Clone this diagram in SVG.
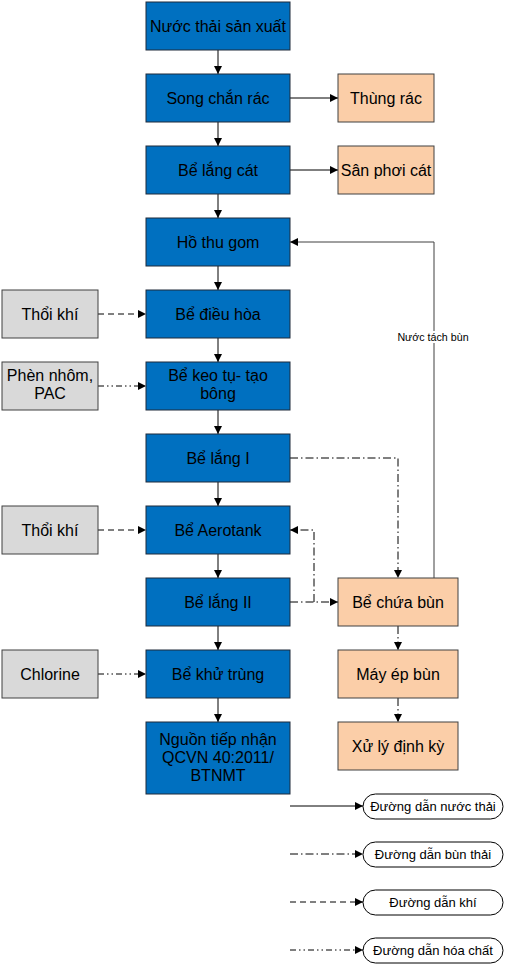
<svg xmlns="http://www.w3.org/2000/svg" width="508" height="964" viewBox="0 0 508 964">
<style>
.b{fill:#0070C0;stroke:#1F2A3A;stroke-width:1}
.o{fill:#FBCEA8;stroke:#404040;stroke-width:1}
.g{fill:#D9D9D9;stroke:#404040;stroke-width:1}
.p{fill:#FFFFFF;stroke:#000;stroke-width:1}
text{font-family:"Liberation Sans",Arial,sans-serif;font-size:16px;fill:#000;text-anchor:middle}
.lg{font-size:13px}
.sm{font-size:10.7px}
.c{fill:none;stroke:#000;stroke-width:1}
.cg{fill:none;stroke:#404040;stroke-width:1}
.dash{stroke-dasharray:6,4}
.dd{stroke-dasharray:8,3,1.5,3}
.ddd{stroke-dasharray:6,3,1.5,3,1.5,3}
</style>
<defs>
<marker id="a" viewBox="0 0 10 10" refX="10" refY="5" markerWidth="8" markerHeight="8" markerUnits="userSpaceOnUse" orient="auto">
<path d="M0,0 L10,5 L0,10 z" fill="#000"/>
</marker>
</defs>
<g id="connectors">
<path class="c" d="M218,50 V74" marker-end="url(#a)"/>
<path class="c" d="M218,122 V146" marker-end="url(#a)"/>
<path class="c" d="M218,194 V218" marker-end="url(#a)"/>
<path class="c" d="M218,266 V290" marker-end="url(#a)"/>
<path class="c" d="M218,338 V362" marker-end="url(#a)"/>
<path class="c" d="M218,410 V434" marker-end="url(#a)"/>
<path class="c" d="M218,482 V506" marker-end="url(#a)"/>
<path class="c" d="M218,554 V578" marker-end="url(#a)"/>
<path class="c" d="M218,626 V650" marker-end="url(#a)"/>
<path class="c" d="M218,698 V722" marker-end="url(#a)"/>
<path class="c" d="M290,98 H338" marker-end="url(#a)"/>
<path class="c" d="M290,170 H338" marker-end="url(#a)"/>
<path class="cg" d="M434,578 V242 H290" marker-end="url(#a)"/>
<rect x="397" y="331" width="74" height="12" fill="#FFFFFF"/>
<text class="sm" x="433" y="341">Nước tách bùn</text>
<path class="c dash" d="M98,314 H146" marker-end="url(#a)"/>
<path class="c ddd" d="M98,386 H146" marker-end="url(#a)"/>
<path class="c dash" d="M98,530 H146" marker-end="url(#a)"/>
<path class="c ddd" d="M98,674 H146" marker-end="url(#a)"/>
<path class="c dd" d="M290,458 H398 V578" marker-end="url(#a)"/>
<path class="c dd" d="M290,602 H338" marker-end="url(#a)"/>
<path class="c dd" d="M314,602 V530 H290" marker-end="url(#a)"/>
<path class="c dd" d="M398,626 V650" marker-end="url(#a)"/>
<path class="c dd" d="M398,698 V722" marker-end="url(#a)"/>
<path class="c" d="M290,806 H363" marker-end="url(#a)"/>
<path class="c dd" d="M290,854 H363" marker-end="url(#a)"/>
<path class="c dash" d="M290,902 H363" marker-end="url(#a)"/>
<path class="c ddd" d="M290,950 H363" marker-end="url(#a)"/>
</g>
<g id="n1"><rect class="b" x="146" y="2" width="144" height="48"/><text x="218" y="31.5">Nước thải sản xuất</text></g>
<g id="n2"><rect class="b" x="146" y="74" width="144" height="48"/><text x="218" y="103.5">Song chắn rác</text></g>
<g id="n3"><rect class="b" x="146" y="146" width="144" height="48"/><text x="218" y="175.5">Bể lắng cát</text></g>
<g id="n4"><rect class="b" x="146" y="218" width="144" height="48"/><text x="218" y="247.5">Hồ thu gom</text></g>
<g id="n5"><rect class="b" x="146" y="290" width="144" height="48"/><text x="218" y="319.5">Bể điều hòa</text></g>
<g id="n6"><rect class="b" x="146" y="362" width="144" height="48"/><text x="218" y="381">Bể keo tụ- tạo</text><text x="218" y="399">bông</text></g>
<g id="n7"><rect class="b" x="146" y="434" width="144" height="48"/><text x="218" y="463.5">Bể lắng I</text></g>
<g id="n8"><rect class="b" x="146" y="506" width="144" height="48"/><text x="218" y="535.5">Bể Aerotank</text></g>
<g id="n9"><rect class="b" x="146" y="578" width="144" height="48"/><text x="218" y="607.5">Bể lắng II</text></g>
<g id="n10"><rect class="b" x="146" y="650" width="144" height="48"/><text x="218" y="679.5">Bể khử trùng</text></g>
<g id="n11"><rect class="b" x="146" y="722" width="144" height="72"/><text x="218" y="745">Nguồn tiếp nhận</text><text x="218" y="763">QCVN 40:2011/</text><text x="218" y="781">BTNMT</text></g>
<g id="o1"><rect class="o" x="338" y="74" width="96" height="48"/><text x="386" y="103.5">Thùng rác</text></g>
<g id="o2"><rect class="o" x="338" y="146" width="96" height="48"/><text x="386" y="175.5">Sân phơi cát</text></g>
<g id="o3"><rect class="o" x="338" y="578" width="120" height="48"/><text x="398" y="607.5">Bể chứa bùn</text></g>
<g id="o4"><rect class="o" x="338" y="650" width="120" height="48"/><text x="398" y="679.5">Máy ép bùn</text></g>
<g id="o5"><rect class="o" x="338" y="722" width="120" height="48"/><text x="398" y="751.5">Xử lý định kỳ</text></g>
<g id="g1"><rect class="g" x="2" y="290" width="96" height="48"/><text x="50" y="319.5">Thổi khí</text></g>
<g id="g2"><rect class="g" x="2" y="362" width="96" height="48"/><text x="50" y="381">Phèn nhôm,</text><text x="50" y="399">PAC</text></g>
<g id="g3"><rect class="g" x="2" y="506" width="96" height="48"/><text x="50" y="535.5">Thổi khí</text></g>
<g id="g4"><rect class="g" x="2" y="650" width="96" height="48"/><text x="50" y="679.5">Chlorine</text></g>
<g id="l1"><rect class="p" x="363" y="794" width="140" height="25" rx="12.5"/><text class="lg" x="433" y="811">Đường dẫn nước thải</text></g>
<g id="l2"><rect class="p" x="363" y="842" width="140" height="25" rx="12.5"/><text class="lg" x="433" y="859">Đường dẫn bùn thải</text></g>
<g id="l3"><rect class="p" x="363" y="890" width="140" height="25" rx="12.5"/><text class="lg" x="433" y="907">Đường dẫn khí</text></g>
<g id="l4"><rect class="p" x="363" y="938" width="140" height="25" rx="12.5"/><text class="lg" x="433" y="955">Đường dẫn hóa chất</text></g>
</svg>
